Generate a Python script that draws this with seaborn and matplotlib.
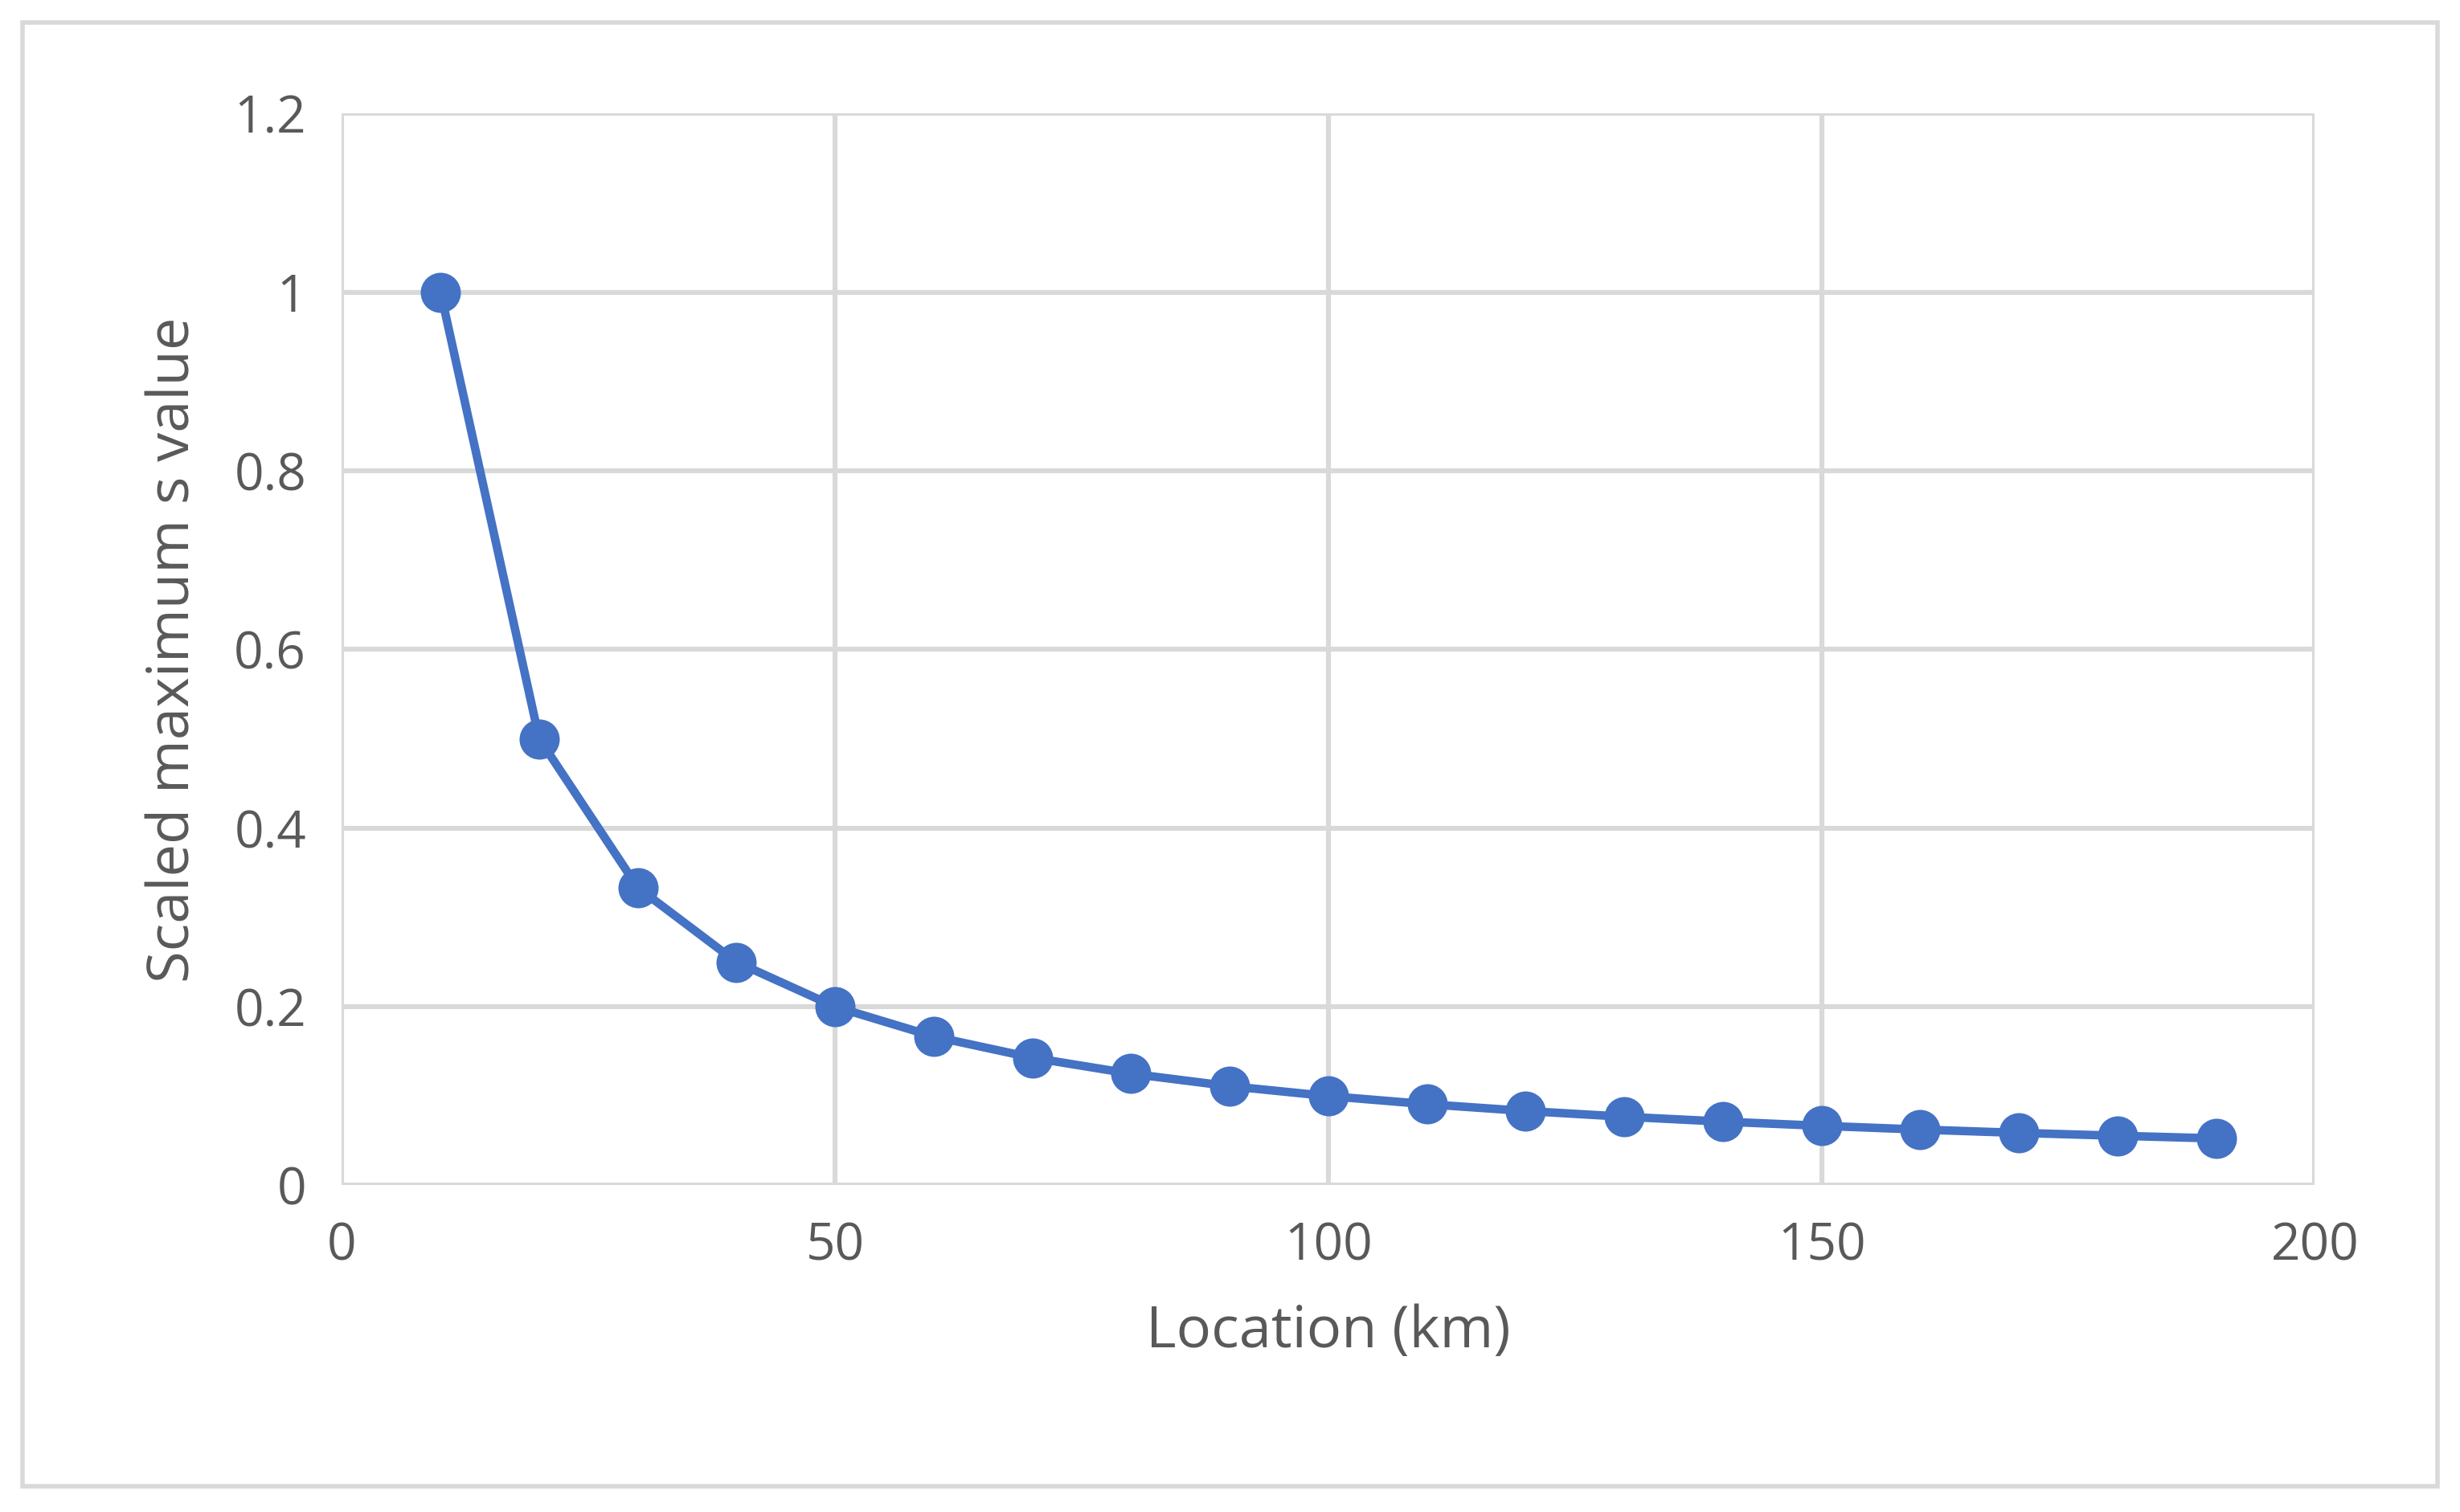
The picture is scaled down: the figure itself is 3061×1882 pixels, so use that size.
import seaborn as sns
import pandas as pd
import matplotlib.pyplot as plt
from matplotlib.patches import Rectangle

location_km = [10, 20, 30, 40, 50, 60, 70, 80, 90, 100,
               110, 120, 130, 140, 150, 160, 170, 180, 190]
scaled_max_s = [1.0, 0.5, 0.3333, 0.25, 0.2, 0.1667, 0.1429, 0.125, 0.1111, 0.1,
                0.0909, 0.0833, 0.0769, 0.0714, 0.0667, 0.0625, 0.0588, 0.0556, 0.0526]

df = pd.DataFrame({"x": location_km, "y": scaled_max_s})

sns.set_style("white")
plt.rcParams['font.family'] = ['Open Sans', 'DejaVu Sans']
grey = "#595959"
grid = "#d9d9d9"

fig = plt.figure(figsize=(15.305, 9.41), dpi=200)
ax = fig.add_axes([0.139, 0.216, 0.802, 0.709])
fig.patches.append(Rectangle((0.009, 0.017), 0.982, 0.968, transform=fig.transFigure,
                             fill=False, edgecolor=grid, linewidth=2))

sns.lineplot(data=df, x="x", y="y", ax=ax, color="#4472C4", linewidth=3.8,
             marker="o", markersize=18, markeredgewidth=0, zorder=3)

ax.set_xlim(0, 200)
ax.set_ylim(0, 1.2)
ax.set_xticks([0, 50, 100, 150, 200])
ax.set_yticks([0, 0.2, 0.4, 0.6, 0.8, 1.0, 1.2])
ax.set_yticklabels(["0", "0.2", "0.4", "0.6", "0.8", "1", "1.2"])
ax.grid(True, color=grid, linewidth=2.2)
for s in ax.spines.values():
    s.set_visible(False)
ax.tick_params(length=0, labelsize=23, colors=grey, pad=16)
ax.set_xlabel("Location (km)", fontsize=26, color=grey, labelpad=14)
ax.set_ylabel("Scaled maximum s value", fontsize=26, color=grey, labelpad=14)

fig.savefig("out.png", dpi=200)
